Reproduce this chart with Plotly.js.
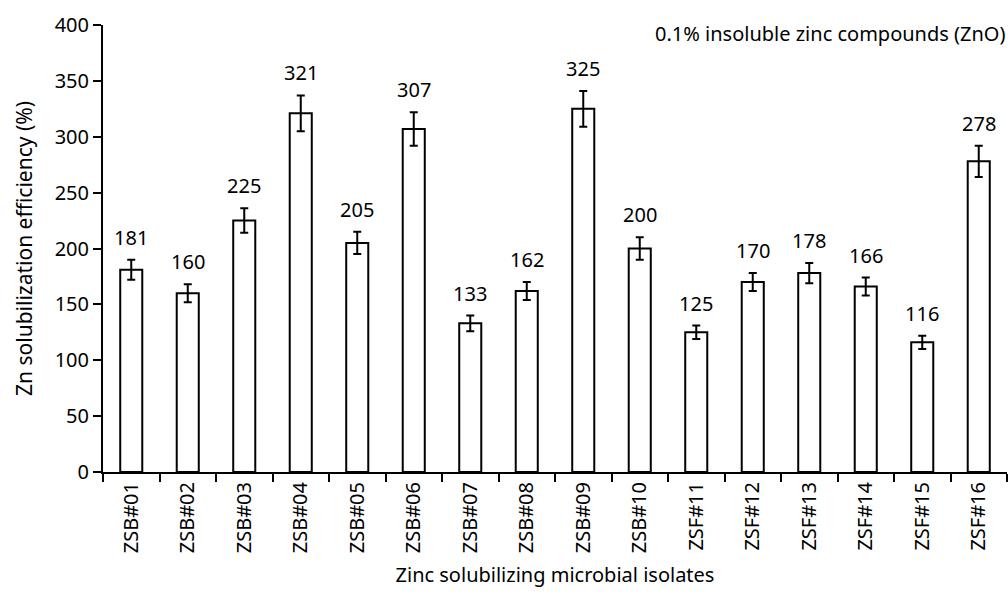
<!DOCTYPE html>
<html><head><meta charset="utf-8">
<script src="https://cdn.plot.ly/plotly-3.0.1.min.js"></script>
<style>html,body{margin:0;padding:0;background:#fff}</style>
</head><body>
<div id="chart" style="width:1008px;height:601px"></div>
<script>
const isolates = ["ZSB#01","ZSB#02","ZSB#03","ZSB#04","ZSB#05","ZSB#06","ZSB#07","ZSB#08","ZSB#09","ZSB#10","ZSF#11","ZSF#12","ZSF#13","ZSF#14","ZSF#15","ZSF#16"];
const efficiency = [181,160,225,321,205,307,133,162,325,200,125,170,178,166,116,278];
const errors = [9,8,11,16,10,15,7,8,16,10,6,8,9,8,6,14];
const yTicks = [0,50,100,150,200,250,300,350,400];
const panelNote = "0.1% insoluble zinc compounds (ZnO)";

const font = "Noto Sans, Open Sans, sans-serif";
const annotations = isolates.map((c,i)=>({
  x: c, y: efficiency[i] + errors[i], xref:'x', yref:'y',
  text: String(efficiency[i]), showarrow:false, yanchor:'bottom', yshift:7,
  font:{family:font, size:20, color:'#000'}
}));
annotations.push({
  xref:'paper', yref:'paper', x:1, y:1, xanchor:'right', yanchor:'middle', yshift:-8,
  text: panelNote, showarrow:false, font:{family:font, size:20, color:'#000'}
});

Plotly.newPlot('chart', [{
  type:'bar', x: isolates, y: efficiency, width:0.39,
  marker:{color:'#fff', line:{color:'#000', width:2}},
  error_y:{type:'data', array: errors, visible:true, color:'#000', thickness:2, width:4}
}], {
  width:1008, height:601,
  margin:{l:103, r:1, t:25, b:129},
  paper_bgcolor:'#fff', plot_bgcolor:'#fff',
  showlegend:false,
  font:{family:font, color:'#000'},
  xaxis:{type:'category', range:[-0.5,15.5], tickson:'boundaries', ticks:'outside', ticklen:8, tickwidth:2, tickcolor:'#000',
    showline:true, linecolor:'#000', linewidth:2, tickangle:-90, tickfont:{size:20, family:font},
    title:{text:'Zinc solubilizing microbial isolates', font:{size:20, family:font}, standoff:16}, showgrid:false, zeroline:false},
  yaxis:{range:[0,400], tickvals:yTicks, ticks:'outside', ticklen:8, tickwidth:2, tickcolor:'#000',
    showline:true, linecolor:'#000', linewidth:2, tickfont:{size:20, family:font},
    title:{text:'Zn solubilization efficiency (%)', font:{size:21, family:font}, standoff:16}, showgrid:false, zeroline:false},
  annotations: annotations
}, {displayModeBar:false, staticPlot:true});
</script>
</body></html>
